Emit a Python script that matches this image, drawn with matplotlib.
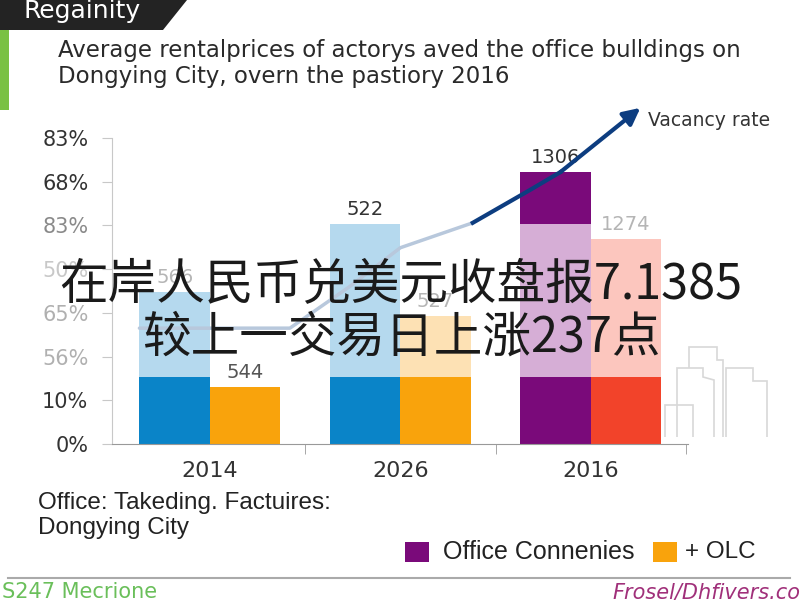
import matplotlib.pyplot as plt
import matplotlib.patches as mpatches
from matplotlib.lines import Line2D
import numpy as np

plt.rcParams['font.family'] = ['DejaVu Sans', 'Noto Sans CJK SC']

# ── data ─────────────────────────────────────────────────────────────────────
years = ['2014', '2026', '2016']
ytick_labels = ['0%', '10%', '56%', '65%', '50%', '83%', '68%', '83%']
ytick_colors = ['#333333', '#333333', '#b0b0b0', '#b0b0b0', '#c8c8c8', '#8a8a8a', '#333333', '#333333']

# left bar of each group: dark base, light middle, dark top (2016 only)
left_base = [1.53, 1.53, 1.53]
left_mid = [3.48, 5.03, 5.03]
left_top = [3.48, 5.03, 6.22]
# right bar of each group: dark base, light top
right_base = [1.30, 1.53, 1.53]
right_top = [1.30, 2.93, 4.69]

left_labels = ['566', '522', '1306']
right_labels = ['544', '527', '1274']
left_label_colors = ['#b5b5b5', '#333333', '#333333']
right_label_colors = ['#555555', '#b5b5b5', '#b5b5b5']

left_dark = ['#0a84c8', '#0a84c8', '#7a0a7a']
left_light = ['#b5d9ee', '#b5d9ee', '#d6aed6']
right_dark = ['#f9a30c', '#f9a30c', '#f2432a']
right_light = ['#f9a30c', '#fde1b4', '#fcc6be']

# vacancy rate trend (group units, y tick units)
vac_x_light = [-0.37, 0.42, 0.73, 1.0, 1.38]
vac_y_light = [2.65, 2.65, 3.59, 4.49, 5.06]
vac_x_dark = [1.38, 1.68, 1.84, 2.26]
vac_y_dark = [5.06, 5.81, 6.22, 7.69]

W, H = 800, 600


def px(x, y):
    return x / W, 1 - y / H


fig = plt.figure(figsize=(8, 6), dpi=100)

# ── header ───────────────────────────────────────────────────────────────────
fig.patches.append(mpatches.Polygon([px(0, 0), px(187, 0), px(163, 30), px(0, 30)],
                                    closed=True, transform=fig.transFigure,
                                    facecolor='#232323', edgecolor='none'))
fig.patches.append(mpatches.Rectangle(px(0, 110), 9 / W, 80 / H, transform=fig.transFigure,
                                      facecolor='#7ac143', edgecolor='none'))
fig.text(*px(24, 11), 'Regainity', color='white', fontsize=18, va='center', ha='left')
fig.text(*px(58, 50), 'Average rentalprices of actorys aved the office bulldings on',
         fontsize=16.5, color='#2a2a2a', va='center', ha='left')
fig.text(*px(58, 76), 'Dongying City, overn the pastiory 2016',
         fontsize=16.5, color='#2a2a2a', va='center', ha='left')

# ── chart ────────────────────────────────────────────────────────────────────
ax = fig.add_axes([112 / W, 1 - 444 / H, 576 / W, 306 / H])
x = np.arange(len(years))
bw = 0.37
xl = x - bw / 2
xr = x + bw / 2

ax.bar(xl, left_base, bw, color=left_dark)
ax.bar(xl, np.array(left_mid) - left_base, bw, bottom=left_base, color=left_light)
ax.bar(xl, np.array(left_top) - left_mid, bw, bottom=left_mid, color=left_dark)
ax.bar(xr, right_base, bw, color=right_dark)
ax.bar(xr, np.array(right_top) - right_base, bw, bottom=right_base, color=right_light)

for i in range(len(years)):
    ax.text(xl[i], left_top[i] + 0.12, left_labels[i], ha='center', va='bottom',
            fontsize=14, color=left_label_colors[i])
    ax.text(xr[i], right_top[i] + 0.12, right_labels[i], ha='center', va='bottom',
            fontsize=14, color=right_label_colors[i])

ax.plot(vac_x_light, vac_y_light, color='#b8c8dc', lw=2.5, solid_capstyle='round', clip_on=False)
ax.plot(vac_x_dark[:-1], vac_y_dark[:-1], color='#0d3d80', lw=3, clip_on=False)
ax.annotate('', xy=(vac_x_dark[-1], vac_y_dark[-1]), xytext=(vac_x_dark[-2], vac_y_dark[-2]),
            arrowprops=dict(arrowstyle='-|>,head_length=1.0,head_width=0.5', color='#0d3d80',
                            lw=3, shrinkA=0, shrinkB=0),
            annotation_clip=False)
fig.text(*px(648, 121), 'Vacancy rate', fontsize=13.5, color='#333333', va='center', ha='left')

ax.set_xlim(-0.514, 2.51)
ax.set_ylim(0, 7)
ax.set_yticks(range(len(ytick_labels)))
ax.set_yticklabels(ytick_labels, fontsize=15)
for lab, c in zip(ax.get_yticklabels(), ytick_colors):
    lab.set_color(c)
ax.set_xticks(x)
ax.set_xticklabels(years, fontsize=16, color='#333333')
ax.set_xticks([0.5, 1.5, 2.5], minor=True)
ax.tick_params(axis='x', which='major', length=0, pad=12)
ax.tick_params(axis='x', which='minor', length=7, color='#999999')
ax.tick_params(axis='y', length=7, color='#c8c8c8', pad=10)
for s in ['top', 'right']:
    ax.spines[s].set_visible(False)
ax.spines['left'].set_color('#c8c8c8')
ax.spines['bottom'].set_color('#999999')

# building icon
bld_color = '#d8d8d8'
for poly in [
    [(677, 437), (677, 368), (703, 368), (703, 377), (714, 380), (714, 437)],
    [(689, 368), (689, 347), (717, 347), (717, 360), (723, 360), (723, 437)],
    [(726, 437), (726, 368), (753, 368), (753, 381), (767, 381), (767, 437)],
    [(665, 437), (665, 405), (693, 405), (693, 437)],
]:
    fig.patches.append(mpatches.Polygon([px(a, b) for a, b in poly], closed=False,
                                        transform=fig.transFigure, fill=False,
                                        edgecolor=bld_color, lw=1.2))

# ── bottom notes and legend ──────────────────────────────────────────────────
fig.text(*px(38, 503), 'Office: Takeding. Factuires:', fontsize=17.5, color='#222222',
         va='center', ha='left', family='Liberation Sans')
fig.text(*px(38, 528), 'Dongying City', fontsize=17.5, color='#222222',
         va='center', ha='left', family='Liberation Sans')
fig.patches.append(mpatches.Rectangle(px(405, 562), 24 / W, 20 / H, transform=fig.transFigure,
                                      facecolor='#7a0a7a', edgecolor='none'))
fig.text(*px(443, 552), 'Office Connenies', fontsize=18, color='#222222',
         va='center', ha='left', family='Liberation Sans')
fig.patches.append(mpatches.Rectangle(px(653, 562), 24 / W, 20 / H, transform=fig.transFigure,
                                      facecolor='#f9a30c', edgecolor='none'))
fig.text(*px(685, 552), '+ OLC', fontsize=17.5, color='#222222',
         va='center', ha='left', family='Liberation Sans')

fig.lines.append(Line2D([8 / W, 790 / W], [1 - 578 / H] * 2, transform=fig.transFigure,
                        color='#aaaaaa', lw=1.5))
fig.text(*px(2, 598), 'S247 Mecrione', fontsize=15, color='#6abf5a', va='baseline', ha='left')
fig.text(*px(612, 598), 'Frosel/Dhfivers.coc', fontsize=15, color='#a0307a', va='baseline',
         ha='left', style='italic')

# ── overlay caption ──────────────────────────────────────────────────────────
fig.text(*px(401, 285), '在岸人民币兑美元收盘报7.1385', fontsize=35, color='#1a1a1a',
         ha='center', va='center', family=['Noto Sans CJK SC', 'DejaVu Sans'])
fig.text(*px(401, 338), '较上一交易日上涨237点', fontsize=35, color='#1a1a1a',
         ha='center', va='center', family=['Noto Sans CJK SC', 'DejaVu Sans'])

fig.savefig('out.png', dpi=100)
